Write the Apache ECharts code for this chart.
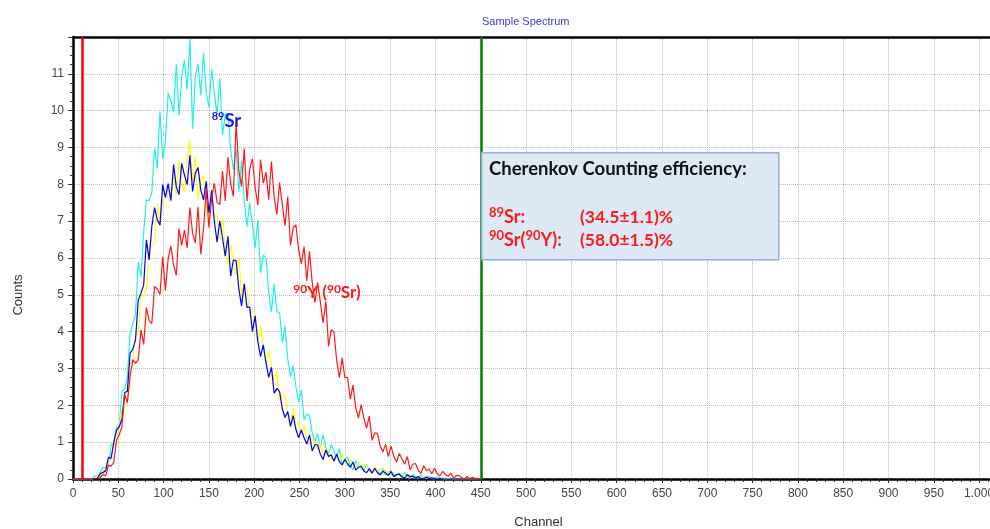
<!DOCTYPE html>
<html>
<head>
<meta charset="utf-8">
<script src="https://cdn.jsdelivr.net/npm/echarts@6/dist/echarts.min.js"></script>
<style>
  html, body { margin: 0; padding: 0; background: #fff; }
  #main { width: 990px; height: 529px; }
</style>
</head>
<body>
<div id="main"></div>
<script>
// channels 0..450, step 3
var channels = [];
for (var c = 0; c <= 450; c += 3) channels.push(c);

// 89Sr standard (cyan)
var cyanCounts = [
    0, 0, 0, 0, 0, 0, 0, 0.01, 0.09, 0.02,
    0.18, 0.32, 0.29, 0.36, 0.93, 0.98, 1.41, 1.41, 2.39, 2.43,
    2.77, 3.96, 4.2, 4.5, 5.89, 5.48, 6.73, 7.57, 7.56, 7.78,
    8.97, 8.43, 9.98, 8.7, 9.18, 10.47, 10.28, 9.95, 11.26, 9.87,
    10.94, 11.37, 10.57, 11.95, 9.5, 10.92, 11.28, 10.41, 11.58, 10.5,
    10.08, 11.13, 10.45, 9.91, 10.88, 9.33, 9.91, 9.92, 8.93, 8.41,
    8.97, 7.8, 8.64, 7.56, 6.86, 7.5, 6.92, 6.28, 7.03, 5.59,
    6.08, 6.01, 5.07, 4.54, 5.29, 4.55, 4.51, 3.7, 4.16, 3.26,
    2.77, 3.07, 2.5, 2.09, 2.41, 1.61, 1.77, 1.72, 1.25, 1.02,
    1.23, 0.87, 1.2, 0.87, 0.68, 0.93, 0.76, 0.58, 0.82, 0.39,
    0.55, 0.59, 0.37, 0.25, 0.5, 0.34, 0.38, 0.22, 0.4, 0.22,
    0.16, 0.31, 0.21, 0.14, 0.28, 0.1, 0.19, 0.22, 0.12, 0.07,
    0.16, 0.05, 0.17, 0.08, 0.02, 0.11, 0.07, 0.03, 0.11, 0,
    0.06, 0.07, 0.01, 0, 0.06, 0.02, 0.03, 0, 0.01, 0.02,
    0, 0, 0, 0, 0, 0, 0, 0, 0, 0, 0];

// yellow
var yellowCounts = [
    0, 0, 0, 0, 0, 0, 0, 0, 0.03, 0.04,
    0.09, 0.1, 0.31, 0.43, 0.56, 1.03, 0.91, 1.47, 1.88, 1.93,
    2.09, 3.12, 3.26, 3.91, 3.95, 5.01, 4.97, 5.2, 6.32, 6.35,
    6.41, 7.45, 6.84, 7.56, 7.9, 7.6, 7.54, 8.29, 7.7, 8.66,
    8.09, 7.79, 8.65, 9.2, 8.01, 8.77, 7.59, 8.12, 8.24, 7.43,
    6.95, 7.73, 7.1, 7.16, 6.49, 7.08, 6.25, 5.83, 6.37, 5.9,
    5.54, 6.0, 5.01, 5.29, 5.19, 4.55, 4.23, 4.5, 3.77, 4.15,
    3.52, 3.1, 3.47, 3.09, 2.68, 2.92, 2.12, 2.29, 2.25, 1.79,
    1.53, 1.91, 1.52, 1.55, 1.21, 1.46, 1.08, 0.92, 1.15, 0.96,
    0.8, 0.99, 0.63, 0.77, 0.79, 0.59, 0.52, 0.67, 0.46, 0.67,
    0.47, 0.36, 0.52, 0.42, 0.32, 0.47, 0.23, 0.35, 0.38, 0.25,
    0.17, 0.33, 0.22, 0.25, 0.15, 0.26, 0.14, 0.09, 0.19, 0.12,
    0.07, 0.16, 0.04, 0.09, 0.1, 0.04, 0.02, 0.07, 0.03, 0.07,
    0.02, 0.03, 0.01, 0.03, 0.01, 0.01, 0, 0, 0, 0,
    0, 0, 0, 0, 0, 0, 0, 0, 0, 0, 0];

// blue
var blueCounts = [
    0, 0, 0, 0, 0, 0, 0, 0, 0.01, 0.02,
    0.14, 0.18, 0.22, 0.59, 0.56, 0.99, 1.32, 1.42, 1.62, 2.35,
    2.38, 3.42, 3.52, 3.78, 4.86, 5.04, 5.27, 6.49, 5.95, 6.86,
    7.37, 7.04, 6.9, 7.99, 7.64, 8.02, 7.56, 8.54, 7.93, 7.72,
    8.57, 8.25, 7.99, 8.79, 7.81, 8.31, 8.46, 7.85, 7.58, 8.08,
    7.22, 7.84, 6.99, 6.43, 7.01, 6.55, 6.05, 6.59, 5.51, 5.94,
    5.93, 5.17, 4.7, 5.3, 4.66, 4.67, 4.0, 4.43, 3.73, 3.32,
    3.64, 3.15, 2.76, 3.03, 2.33, 2.46, 2.37, 1.9, 1.67, 1.83,
    1.43, 1.72, 1.35, 1.12, 1.33, 1.12, 0.95, 1.2, 0.76, 0.93,
    0.93, 0.67, 0.53, 0.79, 0.61, 0.66, 0.48, 0.68, 0.47, 0.38,
    0.53, 0.42, 0.32, 0.46, 0.24, 0.32, 0.34, 0.22, 0.17, 0.28,
    0.16, 0.29, 0.17, 0.11, 0.21, 0.16, 0.1, 0.2, 0.06, 0.12,
    0.13, 0.06, 0.02, 0.12, 0.06, 0.08, 0.02, 0.07, 0.01, 0.01,
    0.05, 0.01, 0.03, 0.02, 0, 0.01, 0, 0, 0, 0,
    0, 0, 0, 0, 0, 0, 0, 0, 0, 0, 0];

// 90Y (90Sr) (red)
var redCounts = [
    0, 0, 0, 0, 0, 0, 0, 0, 0, 0,
    0.04, 0.12, 0.08, 0.37, 0.35, 0.46, 1.06, 1.2, 1.42, 2.3,
    2.07, 2.78, 3.24, 3.14, 3.24, 4.05, 3.65, 4.66, 4.3, 4.22,
    5.23, 5.16, 5.01, 6.03, 5.12, 5.98, 6.33, 5.81, 5.53, 6.8,
    6.34, 6.76, 6.27, 7.37, 6.66, 6.41, 7.38, 6.1, 6.78, 7.88,
    6.82, 7.64, 8.03, 7.51, 7.45, 8.36, 7.55, 8.74, 8.01, 7.67,
    9.7, 8.37, 7.94, 8.97, 7.55, 8.42, 8.7, 7.91, 7.44, 8.67,
    8.03, 8.33, 7.58, 8.62, 7.64, 7.18, 8.05, 7.45, 6.88, 7.67,
    6.34, 6.83, 6.9, 6.23, 5.84, 6.31, 5.38, 6.18, 5.33, 4.79,
    5.34, 4.8, 4.24, 4.82, 3.6, 4.05, 3.99, 3.22, 2.75, 3.29,
    2.76, 2.76, 2.17, 2.55, 1.94, 1.65, 2.02, 1.65, 1.38, 1.71,
    1.05, 1.25, 1.24, 0.89, 0.74, 0.94, 0.61, 0.89, 0.62, 0.46,
    0.69, 0.55, 0.4, 0.61, 0.25, 0.4, 0.42, 0.24, 0.15, 0.36,
    0.23, 0.27, 0.14, 0.29, 0.15, 0.08, 0.21, 0.12, 0.07, 0.16,
    0.02, 0.09, 0.1, 0.03, 0.01, 0.07, 0.01, 0.05, 0.01, 0.02, 0];

var markers = [10, 450];

function pairs(vals) {
    var out = [];
    for (var i = 0; i < channels.length; i++) out.push([channels[i], vals[i]]);
    return out;
}

var chart = echarts.init(document.getElementById('main'));

var labelFont = 'Liberation Sans, Arial, sans-serif';
var boxFont = 'Lato, Open Sans, sans-serif';

option = {
    animation: false,
    title: {
        text: 'Sample Spectrum',
        left: 477,
        top: 11,
        textStyle: { fontSize: 11, fontWeight: 'normal', color: '#3a3af2', fontFamily: labelFont }
    },
    grid: { left: 73, right: 0, top: 37, bottom: 50, containLabel: false, outerBoundsMode: 'none' },
    xAxis: [
        {
            type: 'value',
            min: 0,
            max: 1012,
            interval: 50,
            name: 'Channel',
            nameLocation: 'middle',
            nameGap: 37,
            nameTextStyle: { fontSize: 13, color: '#333', fontFamily: labelFont, padding: [0, 0, 0, 14] },
            axisLine: { lineStyle: { color: '#000', width: 2.5 } },
            axisTick: { show: true, length: 4, lineStyle: { color: '#333' } },
            minorTick: { show: true, splitNumber: 5, length: 3, lineStyle: { color: '#333' } },
            axisLabel: {
                fontSize: 12, color: '#444', margin: 9, fontFamily: labelFont, showMaxLabel: false,
                formatter: function (v) { return v === 1000 ? '1.000' : v; }
            },
            splitLine: { show: true, lineStyle: { color: '#bdbdbd', type: 'dotted', width: 1 } }
        },
        {
            type: 'value',
            position: 'top',
            min: 0,
            max: 1012,
            axisLine: { show: true, lineStyle: { color: '#000', width: 2.5 } },
            axisTick: { show: false },
            axisLabel: { show: false },
            splitLine: { show: false }
        }
    ],
    yAxis: {
        type: 'value',
        min: 0,
        max: 12,
        interval: 1,
        axisLine: { show: true, lineStyle: { color: '#000', width: 2.5 } },
        axisTick: { show: true, length: 5, lineStyle: { color: '#333' } },
        minorTick: { show: true, splitNumber: 4, length: 3, lineStyle: { color: '#333' } },
        axisLabel: { fontSize: 12, color: '#444', margin: 9, fontFamily: labelFont, showMaxLabel: false },
        splitLine: { show: true, lineStyle: { color: '#bdbdbd', type: 'dotted', width: 1 } }
    },
    series: [
        {
            name: 'cyan', type: 'line', showSymbol: false, symbol: 'none',
            data: pairs(cyanCounts),
            lineStyle: { color: '#22eeee', width: 1.2 }
        },
        {
            name: 'yellow', type: 'line', showSymbol: false, symbol: 'none',
            data: pairs(yellowCounts),
            lineStyle: { color: '#ffff00', width: 1.2 }
        },
        {
            name: 'blue', type: 'line', showSymbol: false, symbol: 'none',
            data: pairs(blueCounts),
            lineStyle: { color: '#0000ff', width: 1.2 },
            markPoint: {
                symbol: 'circle', symbolSize: 0, silent: true,
                data: [{ coord: [153, 9.73] }],
                label: {
                    show: true, position: 'right', distance: 0,
                    formatter: '{s|89}{b|Sr}',
                    rich: {
                        s: { fontSize: 11, fontWeight: 'bold', color: '#1a1aee', fontFamily: boxFont, verticalAlign: 'top', lineHeight: 20 },
                        b: { fontSize: 18.5, fontWeight: 'bold', color: '#1a1aee', fontFamily: boxFont, lineHeight: 20 }
                    }
                }
            }
        },
        {
            name: 'red', type: 'line', showSymbol: false, symbol: 'none',
            data: pairs(redCounts),
            lineStyle: { color: '#ff1a1a', width: 1.2 },
            markPoint: {
                symbol: 'circle', symbolSize: 0, silent: true,
                data: [{ coord: [243, 5.07] }],
                label: {
                    show: true, position: 'right', distance: 0,
                    formatter: '{s|90}{b|Y (}{s|90}{b|Sr)}',
                    rich: {
                        s: { fontSize: 12, fontWeight: 'bold', color: '#ff1a1a', fontFamily: boxFont, verticalAlign: 'top', lineHeight: 19 },
                        b: { fontSize: 17, fontWeight: 'bold', color: '#ff1a1a', fontFamily: boxFont, lineHeight: 19 }
                    }
                }
            },
            markLine: {
                symbol: 'none', silent: true,
                label: { show: false },
                data: [
                    { xAxis: markers[0], lineStyle: { color: '#ff0000', width: 2.5, type: 'solid' } },
                    { xAxis: markers[1], lineStyle: { color: '#008000', width: 2.5, type: 'solid' } }
                ]
            }
        }
    ],
    graphic: [
        {
            type: 'text', x: 18, y: 295, rotation: Math.PI / 2,
            style: { text: 'Counts', font: '13px ' + labelFont, fill: '#333', align: 'center', verticalAlign: 'middle' }
        },
        {
            type: 'rect', left: 481, top: 152, z: 100,
            shape: { width: 297, height: 107 },
            style: { fill: '#dde9f5', stroke: '#8fb1dc', lineWidth: 1.5 }
        },
        {
            type: 'text', left: 489, top: 160, z: 101,
            style: { text: 'Cherenkov Counting efficiency:', font: 'bold 18.5px ' + boxFont, fill: '#111' }
        },
        {
            type: 'text', left: 489, top: 206, z: 101,
            style: {
                text: '{s|89}{b|Sr:}\n{s|90}{b|Sr(}{s|90}{b|Y):}',
                rich: {
                    s: { fontSize: 13, fontWeight: 'bold', fill: '#ff1a1a', fontFamily: boxFont, verticalAlign: 'top', lineHeight: 23 },
                    b: { fontSize: 18, fontWeight: 'bold', fill: '#ff1a1a', fontFamily: boxFont, lineHeight: 23 }
                }
            }
        },
        {
            type: 'text', left: 580, top: 206, z: 101,
            style: {
                text: '(34.5±1.1)%\n(58.0±1.5)%',
                font: 'bold 17.5px ' + boxFont, fill: '#ff1a1a', lineHeight: 23
            }
        }
    ]
};

chart.setOption(option);
</script>
</body>
</html>
